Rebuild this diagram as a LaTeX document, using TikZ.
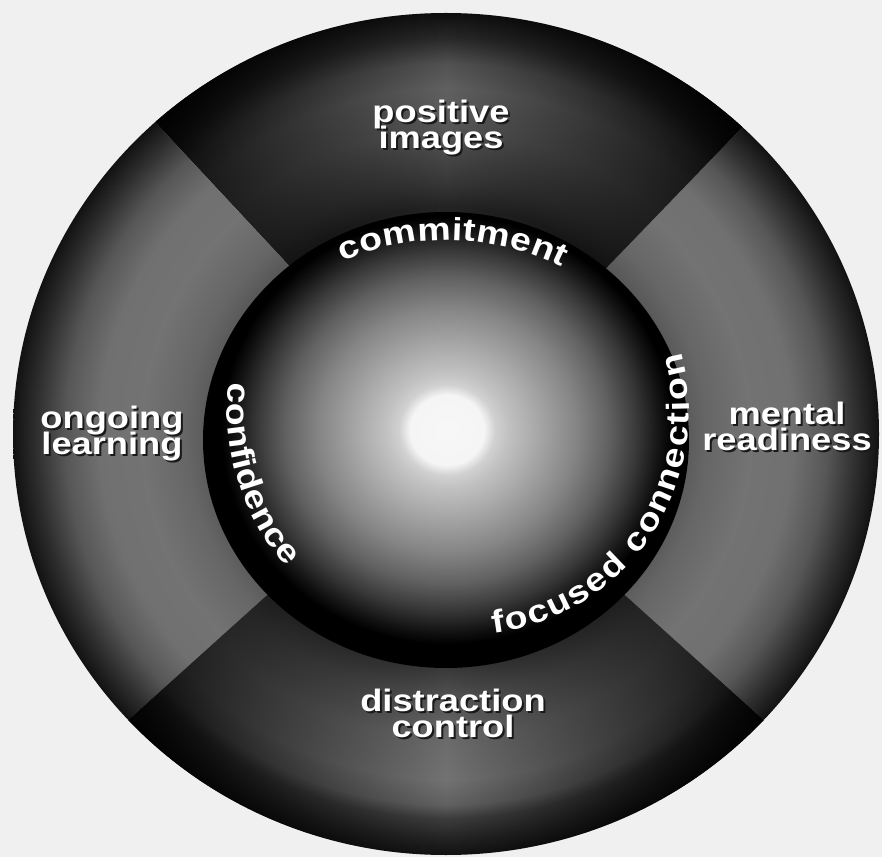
\documentclass[tikz,border=0pt]{standalone}
\usepackage{fontspec}
\setmainfont{Liberation Sans}
\newfontfamily\widesans[FakeStretch=1.17]{Liberation Sans}
\usetikzlibrary{decorations.text, fadings}

% radial shadings (25bp = edge of the shaded ellipse)
\pgfdeclareradialshading{sidering}{\pgfpointorigin}{%
  color(0bp)=(black!66); color(13.5bp)=(black!66); color(15bp)=(black!60);
  color(17.5bp)=(black!55); color(20bp)=(black!56); color(22bp)=(black!66);
  color(23.7bp)=(black!82); color(25bp)=(black!93); color(50bp)=(black!93)}
\pgfdeclareradialshading{crownring}{\pgfpointorigin}{%
  color(0bp)=(black!86); color(13.5bp)=(black!86); color(15bp)=(black!78);
  color(18bp)=(black!66); color(20.5bp)=(black!62); color(22bp)=(black!68);
  color(23.5bp)=(black!84); color(25bp)=(black!94); color(50bp)=(black!94)}
\pgfdeclareradialshading{basering}{\pgfpointorigin}{%
  color(0bp)=(black!80); color(13.5bp)=(black!80); color(15.5bp)=(black!68);
  color(18bp)=(black!58); color(20.5bp)=(black!55); color(22bp)=(black!62);
  color(22.8bp)=(black!76); color(24bp)=(black!86); color(25bp)=(black!93);
  color(50bp)=(black!93)}
\pgfdeclareradialshading{glowball}{\pgfpointorigin}{%
  color(0bp)=(black!3); color(4.1bp)=(black!4); color(5.3bp)=(black!18);
  color(6.7bp)=(black!24); color(10.2bp)=(black!35); color(14.3bp)=(black!48);
  color(17.9bp)=(black!62); color(21bp)=(black!78); color(23.6bp)=(black!93);
  color(25bp)=(black); color(50bp)=(black)}

\tikzfading[name=fade sides, left color=transparent!10,
  right color=transparent!10, middle color=transparent!100]

\newcommand{\shadowed}[1]{\makebox[0pt][l]{\kern2pt\raisebox{-2pt}{\textcolor{black!90}{#1}}}#1}
\newcommand{\ringfont}{\widesans\fontsize{32}{32}\selectfont\bfseries}
\newcommand{\labelfont}{\widesans\fontsize{31}{26}\selectfont\bfseries\lineskiplimit=-40pt\relax}

\tikzset{
  sectorlabel/.style={text=white, font=\labelfont, align=center, inner sep=0pt},
  ringword/.style={decorate, decoration={text along path, text color=white,
    text align={fit to path}, text={|\ringfont|#1}}}
}

\begin{document}
\begin{tikzpicture}[x=1pt, y=1pt]
  % paper
  \fill[black!6] (0,0) rectangle (882,857);
  \useasboundingbox (0,0) rectangle (882,857);

  \coordinate (ctr) at (446,423);
  \coordinate (core) at (446,417);
  \coordinate (glow) at (447,427);

  % right sector
  \begin{scope}
    \clip (ctr) -- +(-42:800) -- +(2:900) -- +(46:800) -- cycle;
    \shade[shading=sidering] (ctr) ellipse [x radius=433, y radius=421];
  \end{scope}

  % top sector
  \begin{scope}
    \clip (ctr) -- +(46:800) -- +(90:900) -- +(133:800) -- cycle;
    \clip (ctr) ellipse [x radius=433, y radius=421];
    \shade[shading=crownring] (ctr) ellipse [x radius=433, y radius=421];
    \fill[black, path fading=fade sides, fit fading=true] (150,560) rectangle (742,857);
  \end{scope}

  % left sector
  \begin{scope}
    \clip (ctr) -- +(133:800) -- +(178:900) -- +(222:800) -- cycle;
    \shade[shading=sidering] (ctr) ellipse [x radius=433, y radius=421];
  \end{scope}

  % bottom sector
  \begin{scope}
    \clip (ctr) -- +(222:800) -- +(270:900) -- +(318:800) -- cycle;
    \clip (ctr) ellipse [x radius=433, y radius=421];
    \shade[shading=basering] (ctr) ellipse [x radius=433, y radius=421];
    \fill[black, path fading=fade sides, fit fading=true] (124,0) rectangle (768,300);
  \end{scope}

  % inner disc and glowing sphere
  \fill[black] (core) ellipse [x radius=243, y radius=228];
  \shade[shading=glowball] (glow) ellipse [x radius=226, y radius=214];

  % words on the dark ring
  \path[ringword=commitment] (446,357) ++(113.5:260) arc [start angle=113.5, end angle=63.5, radius=260];
  \path[ringword=confidence] (469,449) ++(174:242) arc [start angle=174, end angle=221, radius=242];
  \path[ringword=focused connection] (466,445) ++(-83:223) arc [start angle=-83, end angle=15.5, radius=223];

  % sector labels
  \node[sectorlabel] (posimg) at (441,728.8) {\shadowed{positive}\\\shadowed{images}};
  \node[sectorlabel] (ongoing) at (112,422.8) {\shadowed{ongoing}\\\shadowed{learning}};
  \node[sectorlabel] (mental) at (787,429.1) {\shadowed{mental}\\\shadowed{readiness}};
  \node[sectorlabel] (distract) at (453,142.1) {\shadowed{distraction}\\\shadowed{control}};
\end{tikzpicture}
\end{document}
